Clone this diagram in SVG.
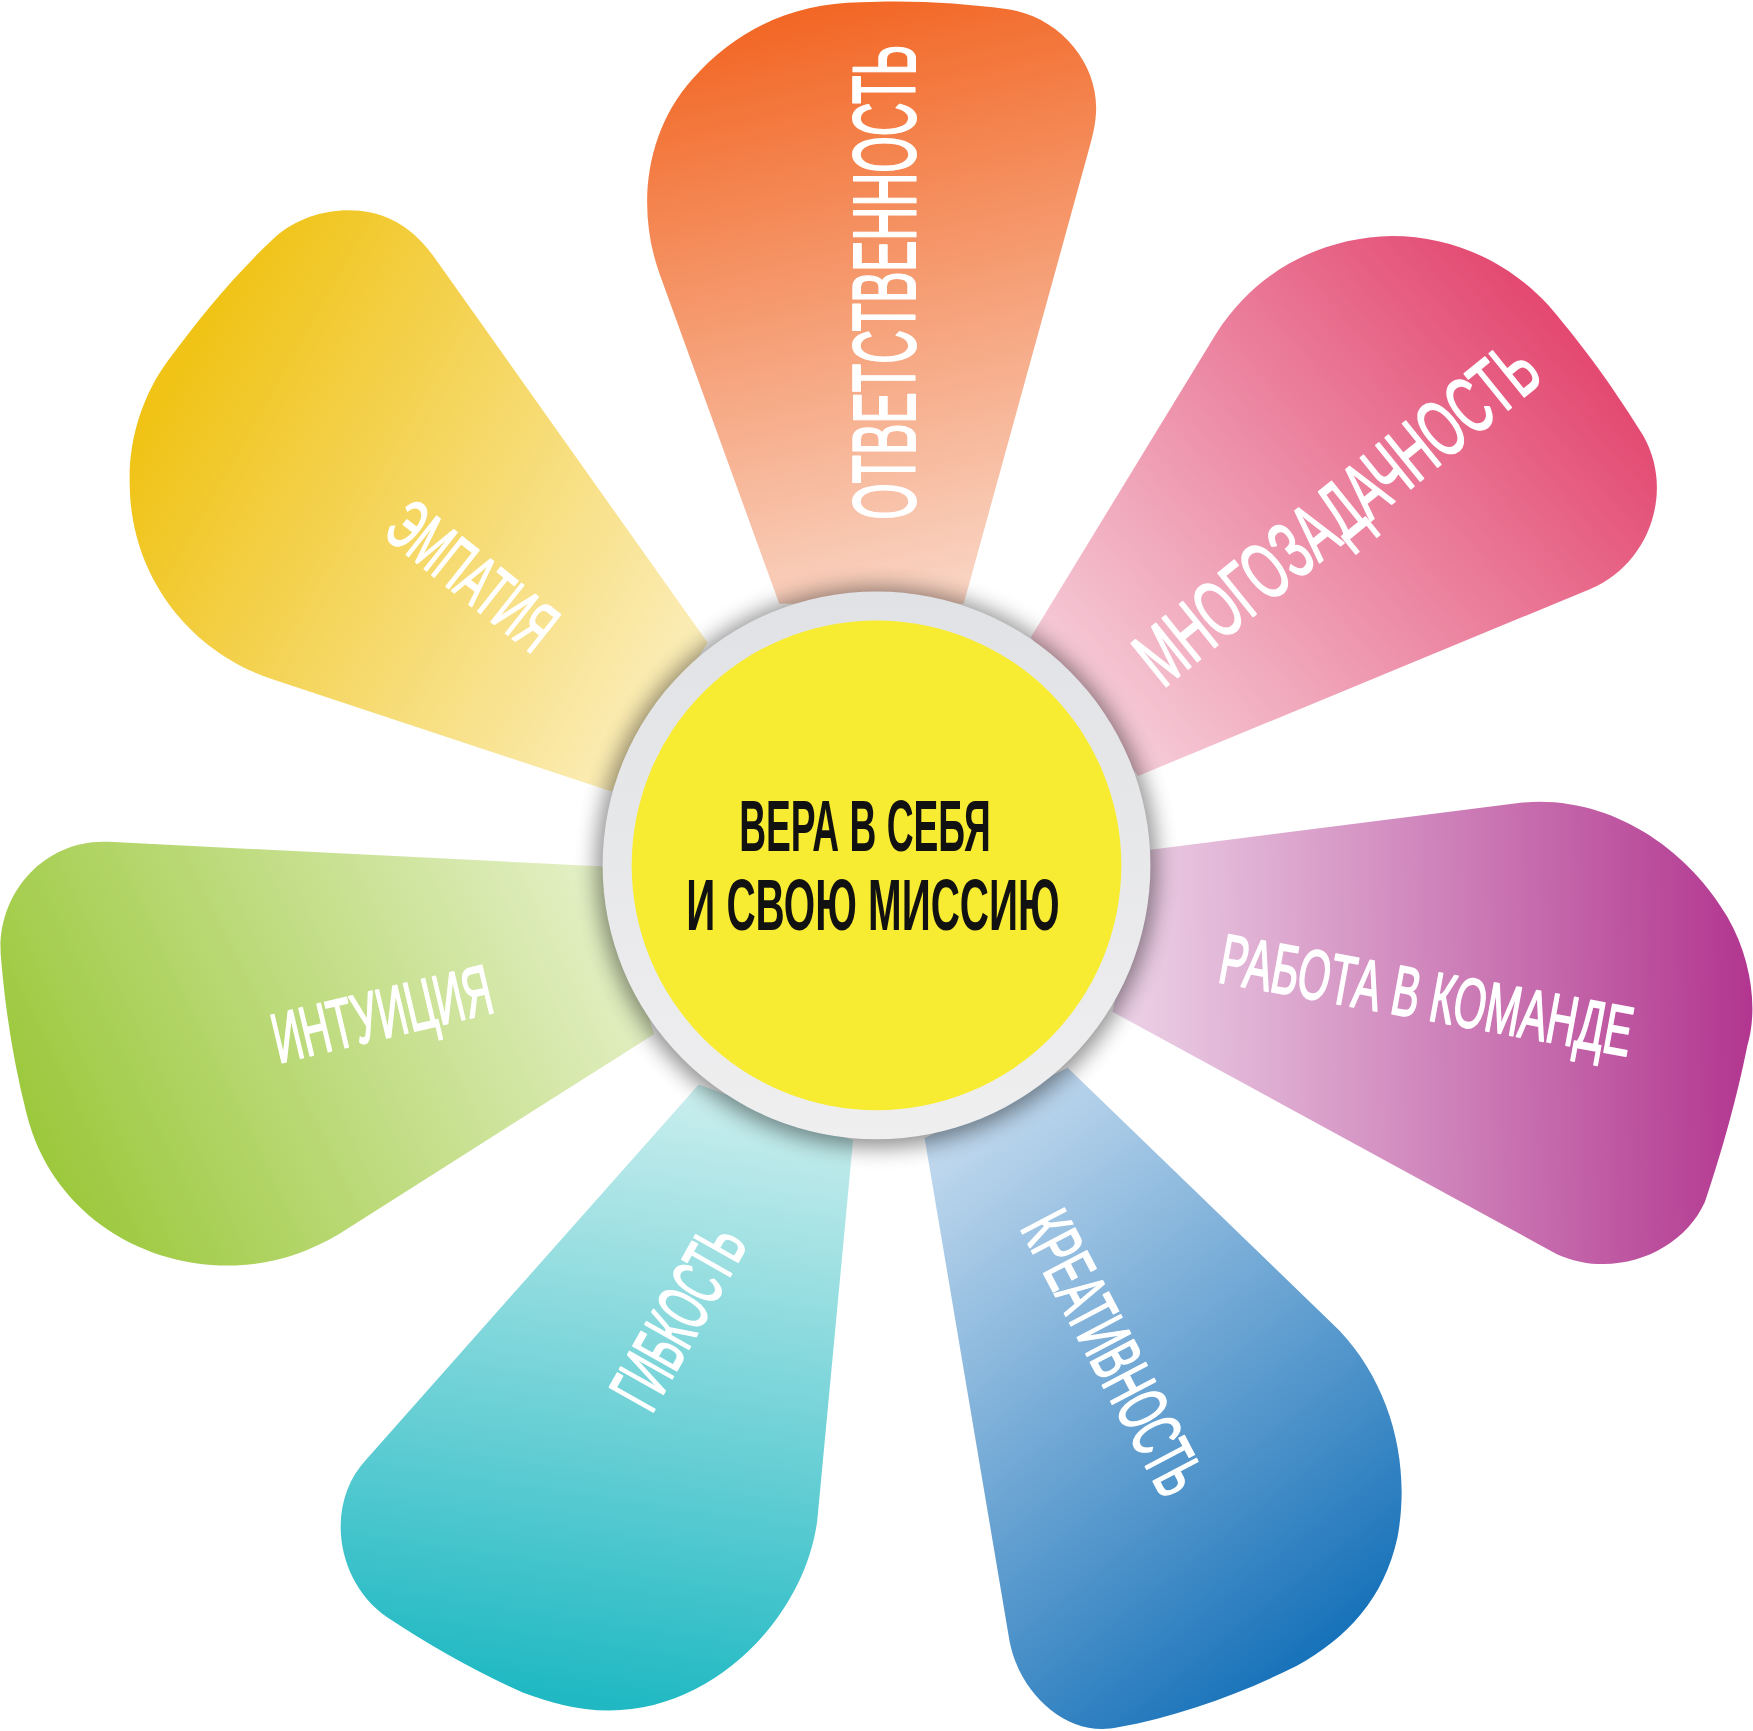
<svg xmlns="http://www.w3.org/2000/svg" width="1753" height="1731" viewBox="0 0 1753 1731">
<defs>
<linearGradient id="gOrange" gradientUnits="userSpaceOnUse" x1="680" y1="10" x2="800" y2="530"><stop offset="0" stop-color="#F26522"/><stop offset="1" stop-color="#F9D2C0"/></linearGradient>
<linearGradient id="gPink" gradientUnits="userSpaceOnUse" x1="1470" y1="230" x2="1000" y2="640"><stop offset="0" stop-color="#E0325F"/><stop offset="1" stop-color="#F5C8D5"/></linearGradient>
<linearGradient id="gPurple" gradientUnits="userSpaceOnUse" x1="1565" y1="820" x2="1010" y2="830"><stop offset="0" stop-color="#B2368F"/><stop offset="1" stop-color="#EBCFE5"/></linearGradient>
<linearGradient id="gBlue" gradientUnits="userSpaceOnUse" x1="1240" y1="1500" x2="860" y2="1020"><stop offset="0" stop-color="#0768B4"/><stop offset="1" stop-color="#BED7ED"/></linearGradient>
<linearGradient id="gCyan" gradientUnits="userSpaceOnUse" x1="600" y1="1530" x2="680" y2="990"><stop offset="0" stop-color="#20B9C3"/><stop offset="1" stop-color="#C8EDED"/></linearGradient>
<linearGradient id="gGreen" gradientUnits="userSpaceOnUse" x1="40" y1="1050" x2="560" y2="800"><stop offset="0" stop-color="#9BC83B"/><stop offset="1" stop-color="#E6F1CA"/></linearGradient>
<linearGradient id="gYellow" gradientUnits="userSpaceOnUse" x1="130" y1="380" x2="590" y2="640"><stop offset="0" stop-color="#F0C316"/><stop offset="1" stop-color="#FBEDB8"/></linearGradient>
<linearGradient id="gRing" x1="0" y1="0" x2="0" y2="1"><stop offset="0" stop-color="#E1E2E5"/><stop offset="1" stop-color="#EFEFF0"/></linearGradient>
<filter id="blur" x="-30%" y="-30%" width="160%" height="160%"><feGaussianBlur stdDeviation="10"/></filter>
</defs>
<style>
.lbl { font-family: "Liberation Sans Narrow", "Liberation Sans", "DejaVu Sans Condensed", sans-serif; fill: #FFFFFF; stroke: #FFFFFF; stroke-width: 1.6; stroke-linejoin: round; vector-effect: non-scaling-stroke; text-anchor: middle; }
.ctr { font-family: "Liberation Sans Narrow", "Liberation Sans", "DejaVu Sans Condensed", sans-serif; font-weight: bold; fill: #111111; text-anchor: middle; }
</style>
<rect width="1753" height="1731" fill="#FFFFFF"/>
<g transform="scale(1.118)">
<g id="petal-otvetstvennost">
<path d="M 697 540 L 590 245 C 570 190 575 120 620 70 C 660 25 710 3 770 2 C 820 0 860 3 900 8 C 950 15 985 60 980 105 C 979 115 977 122 975 130 L 862 540 Z" fill="url(#gOrange)"/>
<text class="lbl" transform="translate(818,252.5) rotate(-90) scale(1,1.905)" font-size="42" textLength="425" lengthAdjust="spacingAndGlyphs">ОТВЕТСТВЕННОСТЬ</text>
</g>
<g id="petal-mnogozadachnost">
<path d="M 922 570 L 1088 298 C 1125 240 1185 212 1245 211 C 1300 211 1350 235 1385 273 C 1420 314 1445 350 1470 390 C 1498 440 1475 505 1422 527 L 1018 694 Z" fill="url(#gPink)"/>
<text class="lbl" transform="translate(1211.3,477.9) rotate(-39) scale(1,1.674)" font-size="43" textLength="440" lengthAdjust="spacingAndGlyphs">МНОГОЗАДАЧНОСТЬ</text>
</g>
<g id="petal-rabota">
<path d="M 1029 760 L 1360 718 C 1440 710 1510 760 1545 820 C 1568 860 1572 905 1563 935 C 1553 985 1540 1030 1525 1075 C 1505 1120 1445 1145 1393 1122 L 995 905 Z" fill="url(#gPurple)"/>
<text class="lbl" transform="translate(1272,911.5) rotate(10.3) scale(1,1.70)" font-size="37" textLength="374" lengthAdjust="spacingAndGlyphs">РАБОТА В КОМАНДЕ</text>
</g>
<g id="petal-kreativnost">
<path d="M 955 955 L 1198 1190 C 1245 1240 1262 1310 1250 1375 C 1238 1430 1205 1465 1160 1490 C 1110 1515 1055 1535 1000 1545 C 955 1555 912 1515 903 1468 L 827 1018 Z" fill="url(#gBlue)"/>
<text class="lbl" transform="translate(976.4,1220.2) rotate(62.2) scale(1,1.853)" font-size="34" textLength="276" lengthAdjust="spacingAndGlyphs">КРЕАТИВНОСТЬ</text>
</g>
<g id="petal-gibkost">
<path d="M 763 1020 L 731 1360 C 720 1445 640 1530 545 1530 C 515 1530 490 1522 468 1514 C 425 1495 385 1472 347 1447 C 300 1415 290 1345 328 1305 L 625 970 Z" fill="url(#gCyan)"/>
<text class="lbl" transform="translate(626.1,1188.9) rotate(-60.5) scale(1,2.03)" font-size="32" textLength="176" lengthAdjust="spacingAndGlyphs">ГИБКОСТЬ</text>
</g>
<g id="petal-intuiciya">
<path d="M 540 775 L 97 753 C 40 750 -5 800 1 858 C 5 905 12 950 24 997 C 45 1080 120 1132 205 1132 C 240 1132 272 1122 303 1104 L 585 925 Z" fill="url(#gGreen)"/>
<text class="lbl" transform="translate(346.6,928) rotate(-13.3) scale(1,1.70)" font-size="37" textLength="200" lengthAdjust="spacingAndGlyphs">ИНТУИЦИЯ</text>
</g>
<g id="petal-empatiya">
<path d="M 633 575 L 387 228 C 365 198 338 188 312 188 C 288 188 264 196 245 213 C 210 246 180 282 150 323 C 128 353 115 392 116 432 C 116 513 168 583 245 608 L 547 708 Z" fill="url(#gYellow)"/>
<text class="lbl" transform="translate(409,532) rotate(38.4) scale(1,1.75)" font-size="36" textLength="173" lengthAdjust="spacingAndGlyphs">ЭМПАТИЯ</text>
</g>
<g id="center">
<circle cx="784" cy="776" r="250" fill="#000000" opacity="0.45" filter="url(#blur)"/>
<circle cx="784" cy="774" r="245" fill="url(#gRing)"/>
<circle cx="784" cy="774" r="219" fill="#F7EC31"/>
<text class="ctr" x="773.7" y="761" font-size="65" textLength="225" lengthAdjust="spacingAndGlyphs">ВЕРА В СЕБЯ</text>
<text class="ctr" x="780.8" y="832" font-size="65" textLength="334" lengthAdjust="spacingAndGlyphs">И СВОЮ МИССИЮ</text>
</g>
</g>
</svg>
